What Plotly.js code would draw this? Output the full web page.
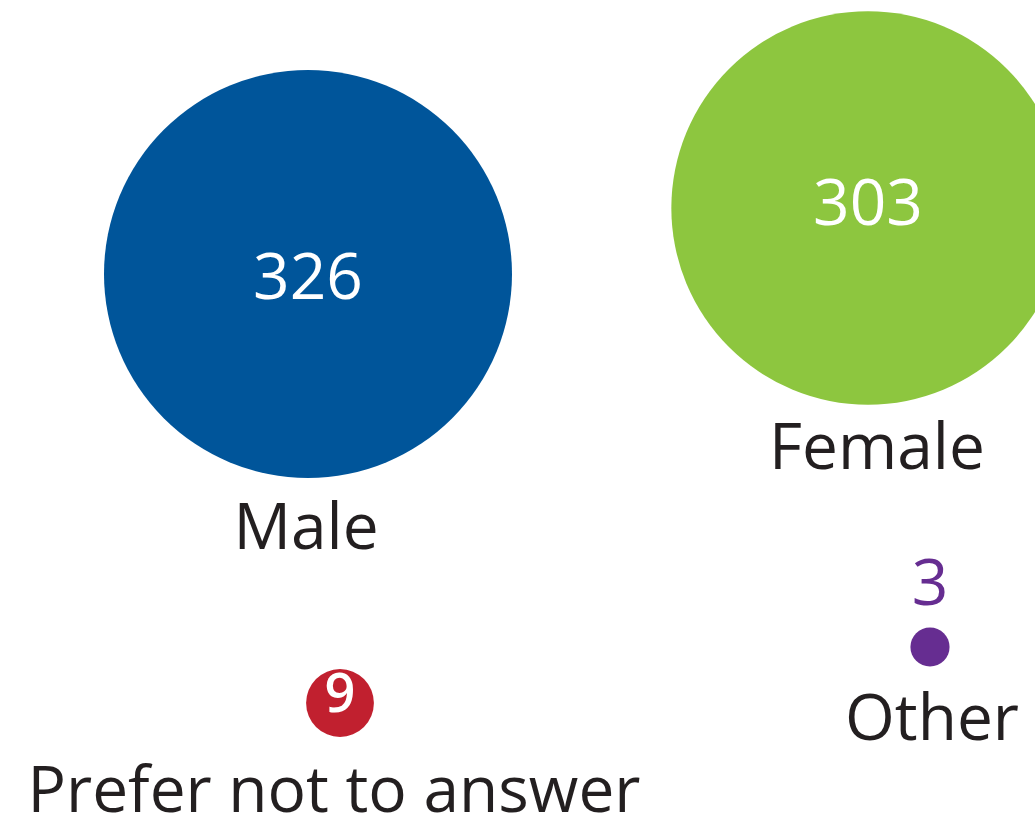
<!DOCTYPE html>
<html>
<head>
<meta charset="utf-8">
<script src="https://cdn.plot.ly/plotly-3.0.1.min.js"></script>
<style>
  html, body { margin: 0; padding: 0; background: #fff; }
  #chart { width: 1035px; height: 822px; }
</style>
</head>
<body>
<div id="chart"></div>
<script>
// respondents by gender
var categories = ['Male', 'Female', 'Other', 'Prefer not to answer'];
var counts = [326, 303, 3, 9];

// styling / placement (pixel coords on a 1035x822 canvas)
var colors = ['#00559A', '#8DC63F', '#662D91', '#C1202F'];
var valueColors = ['#ffffff', '#ffffff', '#662D91', '#ffffff'];
var xPos = [308, 868, 930, 340];
var yPos = [274, 208, 647, 703];
var valueY = [283, 209, 589, 698];
var nameX = [306, 877, 932, 334];
var nameY = [533, 453, 724, 796];

var maxDiameter = 408;
var sizeref = 2 * Math.max.apply(null, counts) / (maxDiameter * maxDiameter);

var font = 'Open Sans, Roboto, sans-serif';

var bubbles = {
    type: 'scatter',
    mode: 'markers',
    x: xPos,
    y: yPos,
    marker: {
        size: counts,
        sizemode: 'area',
        sizeref: sizeref,
        color: colors,
        opacity: 1,
        line: { width: 0 }
    },
    cliponaxis: false,
    hoverinfo: 'skip'
};

var values = {
    type: 'scatter',
    mode: 'text',
    x: xPos,
    y: valueY,
    text: counts.map(String),
    textposition: 'middle center',
    textfont: { family: font, size: [64, 64, 64, 54], color: valueColors, weight: [400, 400, 400, 600] },
    cliponaxis: false,
    hoverinfo: 'skip'
};

var names = {
    type: 'scatter',
    mode: 'text',
    x: nameX,
    y: nameY,
    text: categories,
    textposition: 'middle center',
    textfont: { family: font, size: 64, color: '#231F20' },
    cliponaxis: false,
    hoverinfo: 'skip'
};

var layout = {
    width: 1035,
    height: 822,
    margin: { l: 0, r: 0, t: 0, b: 0 },
    paper_bgcolor: '#ffffff',
    plot_bgcolor: '#ffffff',
    showlegend: false,
    hovermode: false,
    xaxis: { range: [0, 1035], visible: false, fixedrange: true },
    yaxis: { range: [822, 0], visible: false, fixedrange: true }
};

Plotly.newPlot('chart', [bubbles, values, names], layout, { displayModeBar: false, staticPlot: true });
</script>
</body>
</html>
